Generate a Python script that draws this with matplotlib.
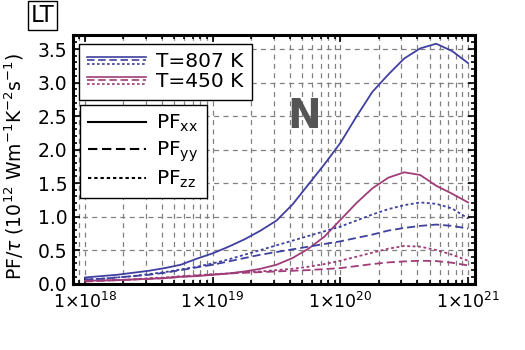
import numpy as np
import matplotlib
matplotlib.use("Agg")
import matplotlib.pyplot as plt
from matplotlib.lines import Line2D
from matplotlib.legend_handler import HandlerBase
from matplotlib.ticker import FixedLocator, FuncFormatter, MultipleLocator

# log10 of carrier concentration
logn = [18.0, 18.125, 18.25, 18.375, 18.5, 18.625, 18.75, 18.875, 19.0, 19.125,
        19.25, 19.375, 19.5, 19.625, 19.75, 19.875, 20.0, 20.125, 20.25, 20.375,
        20.5, 20.625, 20.75, 20.875, 21.0]

# T = 807 K
hot_xx = [0.09, 0.11, 0.13, 0.16, 0.19, 0.23, 0.28, 0.37, 0.45, 0.55,
          0.66, 0.79, 0.94, 1.18, 1.48, 1.78, 2.1, 2.49, 2.86, 3.12,
          3.36, 3.51, 3.58, 3.47, 3.29]
hot_yy = [0.06, 0.07, 0.09, 0.11, 0.13, 0.16, 0.2, 0.24, 0.28, 0.33,
          0.38, 0.43, 0.47, 0.51, 0.55, 0.59, 0.63, 0.68, 0.73, 0.79,
          0.83, 0.86, 0.88, 0.86, 0.82]
hot_zz = [0.06, 0.07, 0.09, 0.11, 0.14, 0.17, 0.21, 0.25, 0.3, 0.36,
          0.43, 0.5, 0.57, 0.64, 0.71, 0.78, 0.85, 0.94, 1.03, 1.11,
          1.17, 1.21, 1.19, 1.12, 0.97]

# T = 450 K
cold_xx = [0.04, 0.045, 0.05, 0.06, 0.07, 0.08, 0.1, 0.11, 0.13, 0.15,
           0.18, 0.22, 0.28, 0.38, 0.52, 0.7, 0.95, 1.2, 1.42, 1.58,
           1.66, 1.62, 1.46, 1.34, 1.21]
cold_yy = [0.03, 0.04, 0.05, 0.06, 0.07, 0.08, 0.1, 0.12, 0.13, 0.15,
           0.16, 0.17, 0.18, 0.19, 0.2, 0.215, 0.23, 0.26, 0.29, 0.315,
           0.33, 0.34, 0.335, 0.31, 0.27]
cold_zz = [0.04, 0.045, 0.05, 0.06, 0.08, 0.09, 0.11, 0.12, 0.14, 0.15,
           0.17, 0.18, 0.2, 0.22, 0.25, 0.29, 0.34, 0.4, 0.46, 0.52,
           0.56, 0.55, 0.5, 0.43, 0.34]

blue = "#4040a0"
mag = "#a03c78"
dashed = (0, (4.5, 2.2))
dotted = (0, (1.6, 1.4))

n = 10.0 ** np.array(logn)

fig = plt.figure(figsize=(5.25, 3.5), dpi=100)
ax = fig.add_axes([73/525, 1 - 283.5/350, 402/525, 248.5/350])

for data, col in [(hot_xx, blue), (cold_xx, mag)]:
    ax.plot(n, data, color=col, lw=1.3, ls='-')
for data, col in [(hot_yy, blue), (cold_yy, mag)]:
    ax.plot(n, data, color=col, lw=1.3, ls=dashed)
for data, col in [(hot_zz, blue), (cold_zz, mag)]:
    ax.plot(n, data, color=col, lw=1.3, ls=dotted)

ax.set_xscale('log')
ax.set_xlim(10 ** 17.906, 10 ** 21.054)
ax.set_ylim(0, 3.71)

ax.xaxis.set_major_locator(FixedLocator([1e18, 1e19, 1e20, 1e21]))
ax.xaxis.set_major_formatter(FuncFormatter(lambda v, p: r"1$\times$10$^{%d}$" % round(np.log10(v))))
ax.yaxis.set_major_locator(MultipleLocator(0.5))
ax.yaxis.set_minor_locator(MultipleLocator(0.1))
ax.yaxis.set_major_formatter(FuncFormatter(lambda v, p: "%.1f" % v))

ax.tick_params(which='both', direction='in', top=True, right=True, width=1.2)
ax.tick_params(axis='x', labelsize=12.5, pad=6)
ax.tick_params(axis='y', labelsize=13.5, pad=4)
ax.tick_params(which='major', length=5)
ax.tick_params(which='minor', length=3)

ax.grid(which='both', axis='x', color='#808080', ls=(0, (4, 3.5)), lw=0.9)
ax.grid(which='major', axis='y', color='#808080', ls=(0, (4, 3.5)), lw=0.9)

for s in ax.spines.values():
    s.set_linewidth(2.2)

ax.set_ylabel(r"PF/$\tau$ (10$^{12}$ Wm$^{-1}$K$^{-2}$s$^{-1}$)", fontsize=13.5)
ax.yaxis.set_label_coords(-0.117, 0.469)


class StackHandler(HandlerBase):
    def create_artists(self, legend, orig_handle, xdescent, ydescent,
                       width, height, fontsize, trans):
        col = orig_handle.get_color()
        y0 = height / 2 - ydescent
        arts = []
        for off, ls in zip([2.4, 0, -2.4], ['-', dashed, dotted]):
            l = Line2D([-xdescent, width - xdescent], [y0 + off, y0 + off],
                       color=col, ls=ls, lw=1.2, transform=trans)
            arts.append(l)
        return arts


temp_handles = [Line2D([], [], color=blue), Line2D([], [], color=mag)]
leg1 = ax.legend(temp_handles, ["T=807 K", "T=450 K"], loc='upper left',
                 bbox_to_anchor=(0.015, 0.964), borderaxespad=0, fontsize=14.5,
                 handler_map={Line2D: StackHandler()}, fancybox=False,
                 edgecolor='black', framealpha=1, handlelength=2.9,
                 labelspacing=0.05, borderpad=0.42, handletextpad=0.5)
leg1.get_frame().set_linewidth(1.0)
ax.add_artist(leg1)

comp_handles = [Line2D([], [], color='black', ls='-', lw=1.5),
                Line2D([], [], color='black', ls=dashed, lw=1.5),
                Line2D([], [], color='black', ls=dotted, lw=1.5)]
leg2 = ax.legend(comp_handles,
                 [r"PF$_{\mathrm{xx}}$", r"PF$_{\mathrm{yy}}$", r"PF$_{\mathrm{zz}}$"],
                 loc='upper left', bbox_to_anchor=(0.017, 0.718), borderaxespad=0,
                 fontsize=14.5, fancybox=False, edgecolor='black', framealpha=1,
                 handlelength=2.9, labelspacing=0.25, borderpad=0.4,
                 handletextpad=0.5)
leg2.get_frame().set_linewidth(1.0)

fig.text(303.7/525, 1 - 117/350, "N", fontsize=29, fontweight='bold',
         color='#555555', ha='center', va='center')
fig.text(42.5/525, 1 - 15.5/350, "LT", fontsize=16.5, ha='center', va='center',
         bbox=dict(boxstyle='square,pad=0.12', fc='white', ec='black', lw=1.0))

fig.savefig("out.png", dpi=100)
